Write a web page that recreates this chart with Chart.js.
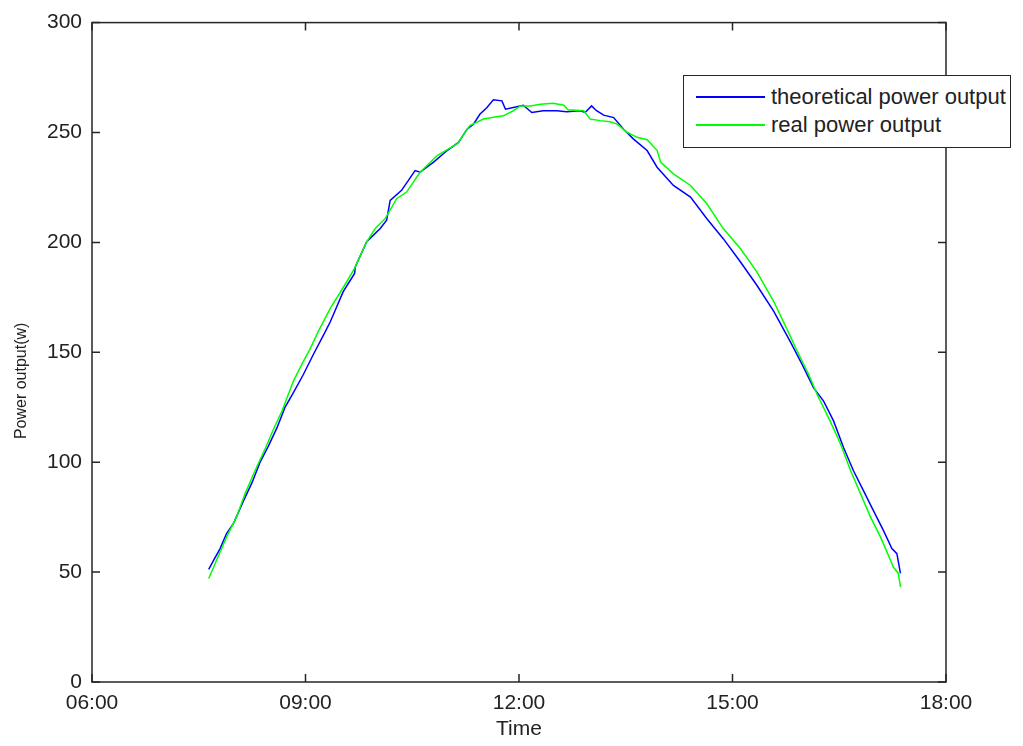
<!DOCTYPE html>
<html lang="en">
<head>
  <meta charset="UTF-8">
  <title>Power output</title>
  <script src="https://cdn.jsdelivr.net/npm/chart.js"></script>
  <style>
    body { margin: 0; background: #fff; }
    #wrap { position: relative; width: 1023px; height: 746px; }
    #legend {
      position: absolute; left: 683px; top: 75px; width: 328px; height: 73px;
      box-sizing: border-box; border: 1.5px solid #262626; background: #fff;
      padding-top: 7px; font: 22px "Liberation Sans", Arial, sans-serif; color: #222;
    }
    #legend .row { height: 28px; display: flex; align-items: center; }
    #legend .swatch { width: 69px; height: 2px; margin-left: 12px; margin-right: 6px; }
  </style>
</head>
<body>
  <div id="wrap">
    <canvas id="powerChart" width="1023" height="746"></canvas>
    <div id="legend"></div>
  </div>

  <script>
    // theoretical power output (hours of day, watts)
    const theoHours = [7.64, 7.71, 7.80, 7.89, 7.99, 8.13, 8.25, 8.36, 8.48, 8.60, 8.71, 8.83, 8.97, 9.11, 9.28,
      9.35, 9.53, 9.69, 9.70, 9.86, 10.05, 10.14, 10.19, 10.35, 10.54, 10.61, 10.80, 10.99, 11.15, 11.27,
      11.36, 11.45, 11.55, 11.64, 11.76, 11.81, 11.92, 12.06, 12.18, 12.34, 12.53, 12.67, 12.86, 12.93, 13.02,
      13.09, 13.19, 13.33, 13.47, 13.61, 13.80, 13.94, 14.17, 14.41, 14.64, 14.87, 15.11, 15.34, 15.58, 15.81,
      15.98, 16.14, 16.28, 16.42, 16.56, 16.70, 16.84, 16.98, 17.12, 17.24, 17.31, 17.36];
    const theoWatts = [51.2, 55.4, 60.7, 67.5, 72.3, 82.5, 90.8, 99.9, 107.4, 115.7, 124.8, 131.6, 139.9, 149.0, 159.5,
      164.0, 177.6, 185.9, 188.9, 200.3, 206.3, 210.1, 219.1, 223.7, 232.7, 231.9, 236.5, 241.8, 245.5, 251.5,
      253.8, 258.3, 261.4, 264.9, 264.4, 260.6, 261.4, 262.4, 259.1, 259.9, 259.9, 259.4, 259.9, 259.1, 262.1,
      259.9, 257.9, 256.8, 251.5, 247.0, 241.8, 234.2, 225.9, 220.6, 210.8, 201.7, 191.2, 180.6, 168.6, 155.0,
      144.4, 133.8, 127.8, 118.8, 106.7, 96.1, 87.1, 78.0, 69.0, 60.7, 58.4, 49.4];

    // real power output
    const realHours = [7.64, 7.75, 7.89, 8.03, 8.15, 8.29, 8.43, 8.55, 8.67, 8.83, 8.97, 9.06, 9.18, 9.35, 9.58,
      9.70, 9.86, 9.98, 10.12, 10.28, 10.42, 10.61, 10.85, 11.13, 11.31, 11.50, 11.64, 11.78, 11.92, 12.02,
      12.16, 12.30, 12.48, 12.63, 12.69, 12.91, 13.00, 13.14, 13.28, 13.38, 13.52, 13.66, 13.80, 13.94, 13.99,
      14.17, 14.41, 14.64, 14.87, 15.11, 15.34, 15.58, 15.78, 15.91, 16.07, 16.19, 16.37, 16.52, 16.66, 16.80,
      16.94, 17.08, 17.22, 17.26, 17.33, 17.36];
    const realWatts = [47.1, 55.4, 65.9, 75.0, 85.6, 96.1, 105.9, 115.0, 123.3, 136.9, 145.9, 151.2, 159.5, 170.1, 182.1,
      188.9, 200.3, 206.3, 210.8, 219.9, 222.9, 231.9, 239.5, 244.8, 253.1, 256.1, 256.9, 257.6, 259.9, 262.1,
      262.1, 262.9, 263.3, 262.4, 260.3, 259.9, 256.1, 255.4, 254.9, 253.8, 250.1, 247.8, 246.7, 241.9, 236.5,
      231.2, 225.9, 217.6, 206.3, 197.2, 186.7, 173.1, 159.5, 150.5, 139.9, 130.8, 118.8, 108.2, 96.1, 85.6,
      75.0, 65.9, 55.4, 52.3, 49.4, 43.3];

    const seriesNames = ['theoretical power output', 'real power output'];
    const timeTicks = ['06:00', '09:00', '12:00', '15:00', '18:00'];
    const yTitle = 'Power output(w)';

    const toPoints = (xs, ys) => xs.map((h, i) => ({ x: h, y: ys[i] }));
    const fontFamily = '"Liberation Sans", Arial, sans-serif';
    const font = { family: fontFamily, size: 21 };

    // box around the axes with inward ticks on all four sides, plus the y label
    const axesBox = {
      id: 'axesBox',
      afterDatasetsDraw(chart) {
        const { ctx, chartArea: a, scales: { x, y } } = chart;
        const len = 8;
        ctx.save();
        ctx.strokeStyle = '#262626';
        ctx.lineWidth = 1.5;
        ctx.strokeRect(a.left, a.top, a.right - a.left, a.bottom - a.top);
        ctx.beginPath();
        x.ticks.forEach(t => {
          const px = x.getPixelForValue(t.value);
          ctx.moveTo(px, a.bottom); ctx.lineTo(px, a.bottom - len);
          ctx.moveTo(px, a.top); ctx.lineTo(px, a.top + len);
        });
        y.ticks.forEach(t => {
          const py = y.getPixelForValue(t.value);
          ctx.moveTo(a.left, py); ctx.lineTo(a.left + len, py);
          ctx.moveTo(a.right, py); ctx.lineTo(a.right - len, py);
        });
        ctx.stroke();

        // y label sits a bit below the middle in the original
        ctx.translate(22, y.getPixelForValue(137));
        ctx.rotate(-Math.PI / 2);
        ctx.fillStyle = '#222';
        ctx.font = '16px ' + fontFamily;
        ctx.textAlign = 'center';
        ctx.textBaseline = 'middle';
        ctx.fillText(yTitle, 0, 0);
        ctx.restore();
      }
    };

    const chart = new Chart(document.getElementById('powerChart'), {
      type: 'line',
      data: {
        datasets: [{
          label: seriesNames[0],
          data: toPoints(theoHours, theoWatts),
          borderColor: '#0000ff',
          borderWidth: 1.5,
          pointRadius: 0,
          tension: 0,
          order: 1
        }, {
          label: seriesNames[1],
          data: toPoints(realHours, realWatts),
          borderColor: '#00ff00',
          borderWidth: 1.5,
          pointRadius: 0,
          tension: 0,
          order: 0
        }]
      },
      options: {
        responsive: false,
        animation: false,
        layout: { padding: { top: 20, right: 77, bottom: 0, left: 0 } },
        plugins: { legend: { display: false }, tooltip: { enabled: false } },
        scales: {
          x: {
            type: 'linear',
            min: 6, max: 18,
            grid: { display: false, drawTicks: false },
            border: { display: false },
            ticks: {
              stepSize: 3, maxRotation: 0, autoSkip: false, padding: 9,
              color: '#222', font,
              callback: v => timeTicks[(v - 6) / 3]
            },
            title: { display: true, text: 'Time', color: '#222', font, padding: { top: 0, bottom: 4 } },
            afterFit: s => { s.height = 64; }
          },
          y: {
            min: 0, max: 300,
            grid: { display: false, drawTicks: false },
            border: { display: false },
            ticks: { stepSize: 50, padding: 10, color: '#222', font },
            afterFit: s => { s.width = 92; }
          }
        }
      },
      plugins: [axesBox]
    });

    // legend box placed like the original, partly outside the axes
    const legend = document.getElementById('legend');
    chart.data.datasets.forEach(ds => {
      const row = document.createElement('div');
      row.className = 'row';
      const sw = document.createElement('span');
      sw.className = 'swatch';
      sw.style.background = ds.borderColor;
      const txt = document.createElement('span');
      txt.textContent = ds.label;
      row.appendChild(sw);
      row.appendChild(txt);
      legend.appendChild(row);
    });
  </script>
</body>
</html>
